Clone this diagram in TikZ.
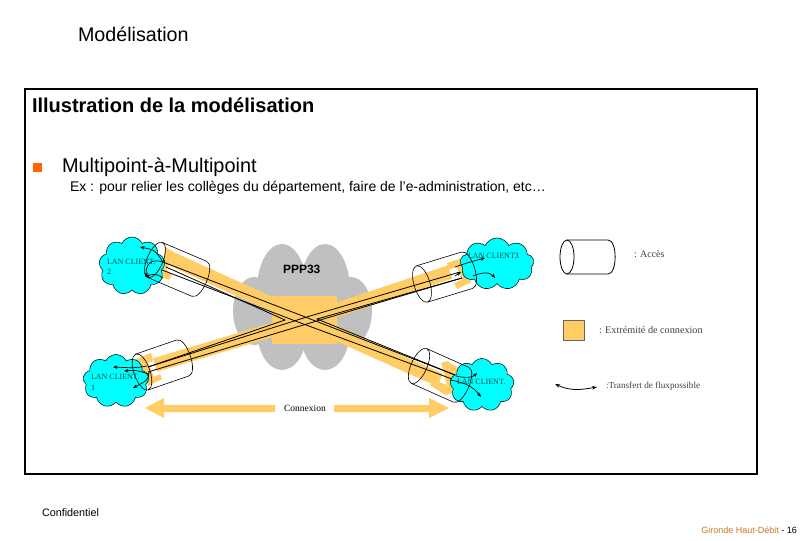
\documentclass[tikz,border=0pt]{standalone}
\usepackage{fontspec}
\setmainfont{Liberation Serif}
\setsansfont{Liberation Sans}
\usetikzlibrary{shapes.symbols,%  cloud shape
arrows.meta}
\definecolor{bandorange}{HTML}{FFCC66}
\definecolor{lancyan}{HTML}{00FFFF}
\definecolor{corpgray}{HTML}{C0C0C0}
\definecolor{footorange}{HTML}{CC7722}
\tikzset{every node/.style={inner sep=0pt,outer sep=0pt},
  sanstext/.style={font=\sffamily,anchor=west},
  legendtext/.style={anchor=west,text=black!75},
  lantext/.style={font=\fontsize{8}{9}\selectfont,anchor=west,text=teal!60!black},
  lancloud/.style={cloud,cloud puffs=9,cloud puff arc=130,draw=black!70!teal,fill=lancyan,line width=0.6pt,aspect=1.25},
  band/.style={draw=bandorange,line width=14pt},
  wire/.style={draw=black,line width=0.8pt},
  flow/.style={draw=black,line width=0.7pt,-{Stealth[length=4.5pt,width=3.5pt]}},
  cylline/.style={draw=black,line width=0.6pt}}

\begin{document}
\begin{tikzpicture}[x=1pt,y=-1pt]
    \useasboundingbox (0,0) rectangle (810,540);
    \node[sanstext,font=\sffamily\fontsize{19.7}{22}\selectfont] (title) at (78,34) {Modélisation};
    \node[draw=black,line width=1.6pt,minimum width=732pt,minimum height=385pt,anchor=north west] (frame) at (25,89) {};
    \node[sanstext,font=\sffamily\fontsize{20}{23}\selectfont\bfseries] (heading) at (32,105) {Illustration de la modélisation};
    \node[fill=orange!80!red,minimum width=9pt,minimum height=9pt] (bullet) at (37.5,167.5) {};
    \node[sanstext,font=\sffamily\fontsize{19.9}{23}\selectfont] (multi) at (62,167) {Multipoint-à-Multipoint};
    \node[sanstext,font=\sffamily\fontsize{14}{16}\selectfont] (example) at (70,188) {Ex : pour relier les collèges du département, faire de l’e-administration, etc…};
    % central cloud
    \begin{scope}[fill=corpgray]
      \fill (254,311) ellipse (21 and 34);
      \fill (351,311) ellipse (21 and 34);
      \fill (282,290) ellipse (25 and 46);
      \fill (325,290) ellipse (25 and 46);
      \fill (282,330) ellipse (25 and 40);
      \fill (325,330) ellipse (25 and 40);
      \fill (303,310) ellipse (30 and 40);
    \end{scope}
    \fill[bandorange] (272,296) rectangle (337,344);
    \node[sanstext,font=\sffamily\bfseries\fontsize{12}{14}\selectfont] (ppp) at (283,269) {PPP33};
    \coordinate (midl) at (285,320);
    \coordinate (midr) at (317,319);
    % bands
    \draw[band] (172,259) -- (306,320) -- (155,365);
    \draw[band] (450,272) -- (306,320) -- (440,380);
    % connection ends
    \fill[bandorange] (165,247) -- (182,257) -- (179,263) -- (172,260) -- (166,270) -- (172,275) -- (169,280) -- (162,277) -- cycle;
    \fill[bandorange] (134,360) -- (151,353) -- (153,361) -- (148,363) -- (154,377) -- (160,374) -- (162,379) -- (148,386) -- cycle;
    \fill[bandorange] (447,263) -- (465,257) -- (473,277) -- (470,283) -- (457,289) -- (454,283) -- (462,280) -- (457,267) -- (448,270) -- cycle;
    \fill[bandorange] (441,363) -- (447,361) -- (458,368) -- (452,393) -- (445,395) -- (430,385) -- (433,380) -- (447,385) -- cycle;
    % clients
    \node[lancloud,minimum width=66pt,minimum height=58pt] (lantwo) at (132,266) {};
    \node[lancloud,minimum width=66pt,minimum height=53pt] (lanone) at (116,381) {};
    \node[lancloud,minimum width=74pt,minimum height=52pt] (lanthree) at (497,264) {};
    \node[lancloud,minimum width=64pt,minimum height=53pt] (lanfour) at (482,385) {};
    % cylinders
    \foreach \cx/\cy/\len/\rot in {155/260/48/-23, 142/372/43/19, 422/284/47/17, 419/366/46/-24}{
      \begin{scope}[shift={(\cx,\cy)},rotate=\rot]
        \draw[cylline] (0,0) ellipse (8 and 19);
        \draw[cylline] (0,-19) -- (\len,-19) .. controls ({\len+10.6},-19) and ({\len+10.6},19) .. (\len,19) -- (0,19);
      \end{scope}
    }
    % flows through the core
    \coordinate (atwo) at (163,262);
    \coordinate (btwo) at (162,270);
    \coordinate (aone) at (148,367);
    \coordinate (bone) at (148,372);
    \coordinate (athree) at (460,272);
    \coordinate (bthree) at (462,278);
    \coordinate (afour) at (455,375);
    \coordinate (bfour) at (452,379);
    \draw[wire] (atwo) -- (300,315) -- (afour);
    \draw[wire] (btwo) -- (298,322) -- (bfour);
    \draw[wire] (166,267) -- (midl) -- (aone);
    \draw[wire] (bone) -- (310,323) -- (bthree);
    \draw[wire] (aone) -- (310,316) -- (athree);
    \draw[wire] (bthree) -- (midr) -- (afour);
    % arrows in the clouds
    \draw[flow] (163,262) .. controls (155,250) .. (140,247);
    \draw[flow] (163,262) .. controls (150,258) and (146,265) .. (146,277);
    \draw[flow] (163,278) .. controls (155,272) and (150,275) .. (145,277);
    \draw[flow] (147,366) .. controls (135,368) .. (113,367);
    \draw[flow] (149,374) .. controls (135,370) .. (124,371);
    \draw[flow] (149,372) .. controls (148,380) .. (133,388);
    \draw[flow] (455,267) .. controls (470,262) .. (485,258);
    \draw[flow] (455,276) -- (461,272);
    \draw[flow] (473,276) .. controls (482,272) and (490,272) .. (495,278);
    \draw[flow] (456,376) .. controls (465,378) and (472,378) .. (477,373);
    \draw[flow] (450,380) .. controls (462,382) and (472,385) .. (481,397);
    % client labels
    \node[lantext] (ltwo) at (107,262) {LAN CLIENT.};
    \node[lantext] (ltwob) at (107,272) {2};
    \node[lantext] (lone) at (91,377) {LAN CLIENT.};
    \node[lantext] (loneb) at (91,388) {1};
    \node[lantext] (lthree) at (468,256) {LAN CLIENT3};
    \node[lantext] (lfour) at (457,382) {LAN CLIENT.};
    % connexion arrows
    \fill[bandorange] (275,405) -- (164,405) -- (164,398) -- (145,408) -- (164,418) -- (164,412) -- (275,412) -- cycle;
    \fill[bandorange] (334,405) -- (429,405) -- (429,398) -- (449,408) -- (429,418) -- (429,412) -- (334,412) -- cycle;
    \node[font=\fontsize{9.5}{11}\selectfont] (connexion) at (305,408) {Connexion};
    % legend
    \draw[cylline,line width=0.8pt] (567,257) ellipse (7 and 17);
    \draw[cylline,line width=0.8pt] (567,240) -- (608,240) .. controls (617.5,240) and (617.5,274) .. (608,274) -- (567,274);
    \node[legendtext,font=\fontsize{10}{11}\selectfont] (lacces) at (634,254) {: Accès};
    \node[draw=black!60,fill=bandorange,minimum width=21pt,minimum height=20pt,anchor=north west] (lsquare) at (563,320) {};
    \node[legendtext,font=\fontsize{10.2}{11}\selectfont] (lext) at (599,330) {: Extrémité de connexion};
    \coordinate (curvel) at (555,384);
    \coordinate (curver) at (597,387);
    \draw[line width=0.8pt,{Stealth[length=5pt,width=3.5pt]}-{Stealth[length=5pt,width=3.5pt]}] (curvel) .. controls (570,391) and (580,390) .. (curver);
    \node[legendtext,font=\fontsize{9.2}{11}\selectfont] (ltrans) at (606,386) {:Transfert de fluxpossible};
    % footer
    \node[sanstext,font=\sffamily\fontsize{10.8}{12}\selectfont] (conf) at (42,513) {Confidentiel};
    \node[sanstext,anchor=east,font=\sffamily\fontsize{9}{11}\selectfont] (foot) at (797,530) {\textcolor{footorange}{Gironde Haut-Débit} - 16};
  \end{tikzpicture}
\end{document}
